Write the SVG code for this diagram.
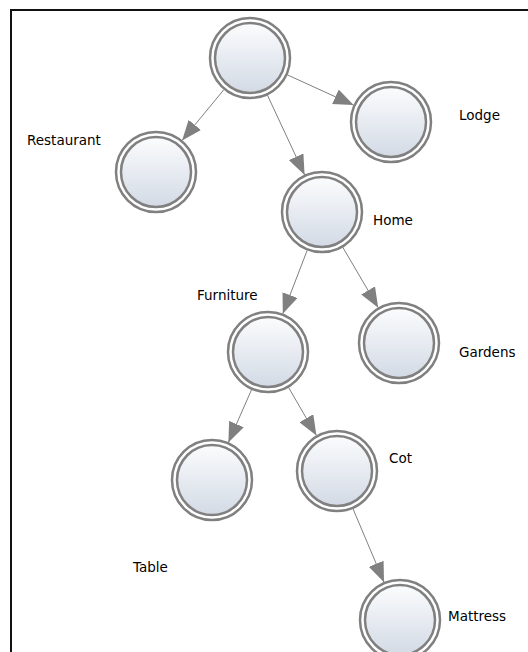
<svg xmlns="http://www.w3.org/2000/svg" width="528" height="652" viewBox="0 0 528 652">
  <style>
    .ring { fill: #ffffff; stroke: #808080; stroke-width: 2.5; }
    .core { fill: url(#nodeFill); stroke: #808080; stroke-width: 2.5; }
    .edge { stroke: #808080; stroke-width: 1; fill: none; marker-end: url(#arrow); }
    .label { font-family: "DejaVu Sans", Verdana, sans-serif; font-size: 13.5px; fill: #000000; }
  </style>
  <defs>
    <linearGradient id="nodeFill" x1="0" y1="0" x2="0" y2="1">
      <stop offset="0" stop-color="#fbfcfd"/>
      <stop offset="1" stop-color="#d3dae5"/>
    </linearGradient>
    <marker id="arrow" markerUnits="userSpaceOnUse" markerWidth="20" markerHeight="16" refX="20" refY="8" orient="auto">
      <path d="M0,0 L20,8 L0,16 z" fill="#808080"/>
    </marker>
  </defs>

  <rect width="528" height="652" fill="#ffffff"/>
  <!-- frame: left and top edges -->
  <path d="M11,652 V10 H528" fill="none" stroke="#111111" stroke-width="2"/>

  <g id="connectors">
    <line class="edge" x1="223.9" y1="89.6" x2="182.1" y2="140.4"/>
    <line class="edge" x1="287.4" y1="74.9" x2="353.6" y2="105.1"/>
    <line class="edge" x1="267.4" y1="95.1" x2="304.6" y2="174.9"/>
    <line class="edge" x1="307.2" y1="250.3" x2="282.8" y2="313.7"/>
    <line class="edge" x1="342.8" y1="247.3" x2="378.2" y2="307.7"/>
    <line class="edge" x1="251.6" y1="389.6" x2="228.4" y2="442.4"/>
    <line class="edge" x1="288.6" y1="387.5" x2="316.4" y2="435.5"/>
    <line class="edge" x1="353" y1="508.8" x2="384" y2="582.2"/>
  </g>

  <g id="root">
    <circle class="ring" cx="250" cy="58" r="40"/>
    <circle class="core" cx="250" cy="58" r="35"/>
  </g>
  <g id="restaurant">
    <circle class="ring" cx="156" cy="172" r="40"/>
    <circle class="core" cx="156" cy="172" r="35"/>
    <text class="label" x="27" y="145">Restaurant</text>
  </g>
  <g id="lodge">
    <circle class="ring" cx="391" cy="122" r="40"/>
    <circle class="core" cx="391" cy="122" r="35"/>
    <text class="label" x="459" y="120">Lodge</text>
  </g>
  <g id="home">
    <circle class="ring" cx="322" cy="212" r="40"/>
    <circle class="core" cx="322" cy="212" r="35"/>
    <text class="label" x="373" y="225">Home</text>
  </g>
  <g id="furniture">
    <circle class="ring" cx="268" cy="352" r="40"/>
    <circle class="core" cx="268" cy="352" r="35"/>
    <text class="label" x="197" y="300">Furniture</text>
  </g>
  <g id="gardens">
    <circle class="ring" cx="399" cy="343" r="40"/>
    <circle class="core" cx="399" cy="343" r="35"/>
    <text class="label" x="459" y="357">Gardens</text>
  </g>
  <g id="table">
    <circle class="ring" cx="212" cy="480" r="40"/>
    <circle class="core" cx="212" cy="480" r="35"/>
    <text class="label" x="133" y="572">Table</text>
  </g>
  <g id="cot">
    <circle class="ring" cx="337" cy="471" r="40"/>
    <circle class="core" cx="337" cy="471" r="35"/>
    <text class="label" x="389" y="463">Cot</text>
  </g>
  <g id="mattress">
    <circle class="ring" cx="400" cy="620" r="40"/>
    <circle class="core" cx="400" cy="620" r="35"/>
    <text class="label" x="448" y="621">Mattress</text>
  </g>
</svg>
